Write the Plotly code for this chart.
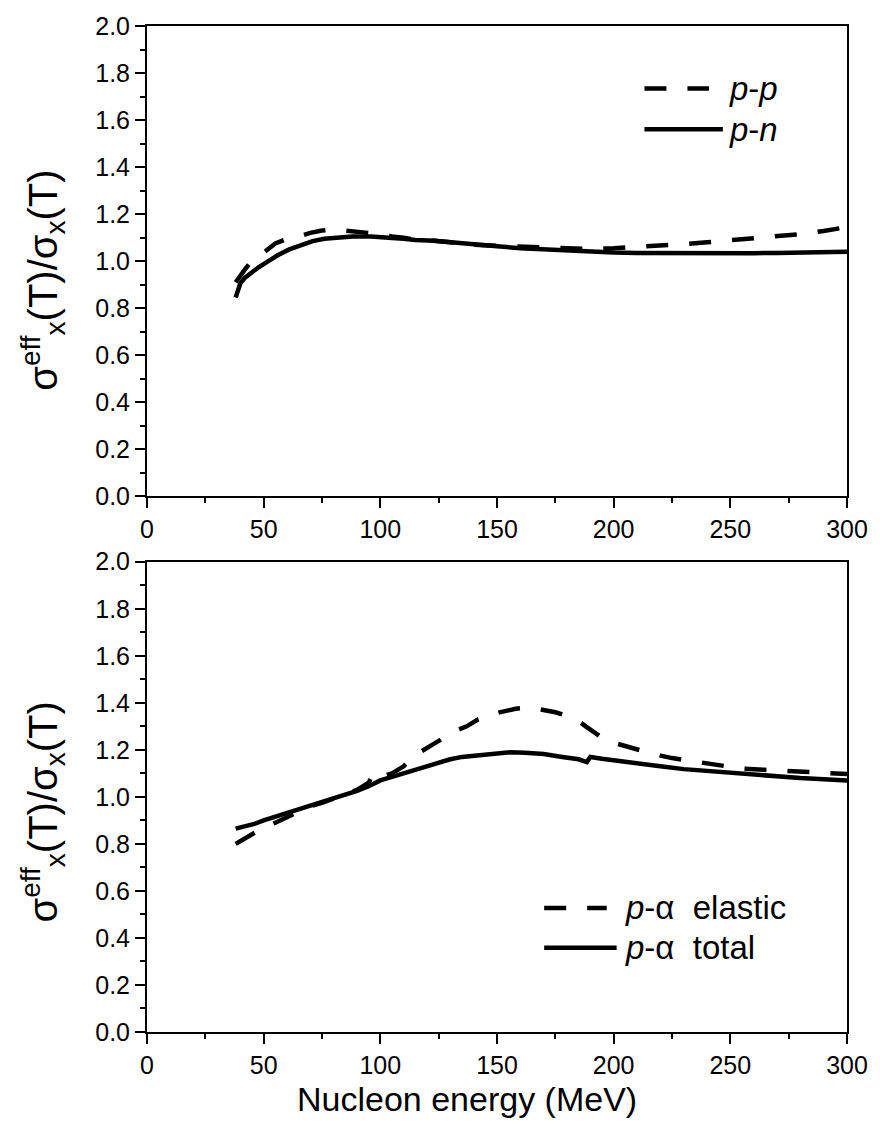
import plotly.graph_objects as go
from plotly.subplots import make_subplots

# ---- data ----
pp_x = [38, 40, 42, 44, 46, 48, 50, 55, 60, 65, 70, 75, 80, 85, 90, 95, 100, 105, 110, 115, 120,
        130, 140, 150, 160, 170, 180, 190, 200, 210, 220, 230, 240, 250, 260, 270, 280, 290, 300]
pp_y = [0.91, 0.94, 0.965, 0.99, 1.005, 1.02, 1.035, 1.075, 1.095, 1.105, 1.12, 1.13, 1.135, 1.13,
        1.125, 1.12, 1.115, 1.105, 1.10, 1.09, 1.09, 1.08, 1.07, 1.065, 1.06, 1.058, 1.055, 1.052,
        1.055, 1.06, 1.065, 1.072, 1.08, 1.088, 1.095, 1.105, 1.115, 1.128, 1.145]

pn_x = [38, 39, 40, 42, 45, 48, 52, 56, 61, 66, 71, 76, 82, 88, 96, 100, 105, 110, 115, 123, 130,
        140, 150, 160, 170, 180, 190, 200, 210, 220, 230, 240, 250, 260, 270, 280, 290, 300]
pn_y = [0.845, 0.88, 0.905, 0.93, 0.955, 0.975, 1.0, 1.025, 1.05, 1.07, 1.085, 1.095, 1.10, 1.105,
        1.105, 1.10, 1.098, 1.095, 1.09, 1.087, 1.08, 1.072, 1.063, 1.055, 1.05, 1.045, 1.04, 1.037,
        1.035, 1.034, 1.033, 1.033, 1.033, 1.034, 1.035, 1.036, 1.037, 1.04]

pa_el_x = [38, 42, 46, 50, 55, 60, 65, 70, 75, 80, 85, 90, 95, 97, 100, 105, 110, 113, 117, 122,
           127, 132, 137, 142, 147, 152, 158, 164, 170, 175, 180, 184, 188, 192, 196, 200, 205,
           210, 218, 225, 237, 245, 255, 265, 274, 283, 293, 300]
pa_el_y = [0.80, 0.825, 0.85, 0.87, 0.89, 0.915, 0.94, 0.96, 0.975, 0.99, 1.01, 1.03, 1.06, 1.10,
           1.085, 1.10, 1.13, 1.16, 1.19, 1.22, 1.25, 1.28, 1.30, 1.33, 1.35, 1.36, 1.375, 1.38,
           1.37, 1.36, 1.345, 1.33, 1.30, 1.27, 1.245, 1.23, 1.215, 1.20, 1.18, 1.165, 1.148,
           1.135, 1.12, 1.115, 1.11, 1.105, 1.10, 1.097]

pa_tot_x = [38, 42, 46, 50, 55, 60, 65, 70, 75, 80, 85, 90, 95, 100, 105, 110, 115, 120, 125, 130,
            135, 140, 145, 150, 156, 162, 170, 178, 185, 188.5, 190, 195, 200, 205, 210, 220, 230,
            240, 250, 260, 270, 280, 290, 300]
pa_tot_y = [0.865, 0.875, 0.885, 0.90, 0.915, 0.93, 0.945, 0.96, 0.975, 0.99, 1.005, 1.025, 1.045,
            1.07, 1.085, 1.10, 1.115, 1.13, 1.145, 1.16, 1.17, 1.175, 1.182, 1.185, 1.19, 1.188,
            1.182, 1.17, 1.16, 1.148, 1.17, 1.162, 1.155, 1.148, 1.14, 1.13, 1.118, 1.11, 1.10,
            1.092, 1.085, 1.08, 1.075, 1.07]

top_labels = ["<i>p</i>-<i>p</i>", "<i>p</i>-<i>n</i>"]
bot_labels = ["<i>p</i>-\u03b1\u00a0 elastic", "<i>p</i>-\u03b1\u00a0 total"]
y_title = "\u03c3<sup>eff</sup><sub>x</sub>(T)/\u03c3<sub>x</sub>(T)"
x_title = "Nucleon energy (MeV)"

FONT = "Liberation Sans, Arial, sans-serif"
LW = 4.5
DASH = "22px,21px"

fig = make_subplots(rows=2, cols=1, vertical_spacing=0.0651)

fig.add_trace(go.Scatter(x=pp_x, y=pp_y, mode="lines", line=dict(color="black", width=LW, dash=DASH),
                         showlegend=False), row=1, col=1)
fig.add_trace(go.Scatter(x=pn_x, y=pn_y, mode="lines", line=dict(color="black", width=LW),
                         showlegend=False), row=1, col=1)
fig.add_trace(go.Scatter(x=pa_el_x, y=pa_el_y, mode="lines", line=dict(color="black", width=LW, dash=DASH),
                         showlegend=False), row=2, col=1)
fig.add_trace(go.Scatter(x=pa_tot_x, y=pa_tot_y, mode="lines", line=dict(color="black", width=LW),
                         showlegend=False), row=2, col=1)

axis_common = dict(showline=True, linecolor="black", linewidth=2, mirror=True, showgrid=False,
                   zeroline=False, ticks="outside", ticklen=10, tickwidth=2, tickcolor="black",
                   tickfont=dict(family=FONT, size=25, color="black"))

for r in (1, 2):
    fig.update_xaxes(range=[0, 300], dtick=50, tick0=0,
                     minor=dict(ticks="outside", ticklen=5, tickwidth=2, tickcolor="black", dtick=25),
                     **axis_common, row=r, col=1)
    fig.update_yaxes(range=[0, 2.0], dtick=0.2, tick0=0, tickformat=".1f",
                     minor=dict(ticks="outside", ticklen=5, tickwidth=2, tickcolor="black", dtick=0.1),
                     **axis_common, row=r, col=1)

fig.update_layout(
    width=880, height=1134,
    margin=dict(l=147, r=28, t=18, b=102),
    plot_bgcolor="white", paper_bgcolor="white",
    font=dict(family=FONT, color="black"),
)

def px2p(px, py):
    return (px - 147) / 705.0, (1032 - py) / 1014.0

shapes = []
annots = []

def legend_entry(x0, x1, y, dash, label, tx):
    a0, b = px2p(x0, y)
    a1, _ = px2p(x1, y)
    shapes.append(dict(type="line", xref="paper", yref="paper", x0=a0, x1=a1, y0=b, y1=b,
                       line=dict(color="black", width=LW, dash=dash)))
    t, _ = px2p(tx, y)
    annots.append(dict(xref="paper", yref="paper", x=t, y=b, xanchor="left", yanchor="middle",
                       text=label, showarrow=False, font=dict(family=FONT, size=33, color="black")))

legend_entry(648, 713, 81, DASH, top_labels[0], 731)
legend_entry(648, 727, 122, "solid", top_labels[1], 731)
legend_entry(547, 610, 907, DASH, bot_labels[0], 626)
legend_entry(547, 620, 947, "solid", bot_labels[1], 626)

for cy in (274, 810):
    xx, yy = px2p(42, cy)
    annots.append(dict(xref="paper", yref="paper", x=xx, y=yy, xanchor="center", yanchor="middle",
                       textangle=-90, text=y_title, showarrow=False,
                       font=dict(family=FONT, size=40, color="black")))

xx, yy = px2p(469, 1100)
annots.append(dict(xref="paper", yref="paper", x=xx, y=yy, xanchor="center", yanchor="middle",
                   text=x_title, showarrow=False, font=dict(family=FONT, size=34, color="black")))

fig.update_layout(shapes=shapes, annotations=annots)

fig.write_html("out.html")
